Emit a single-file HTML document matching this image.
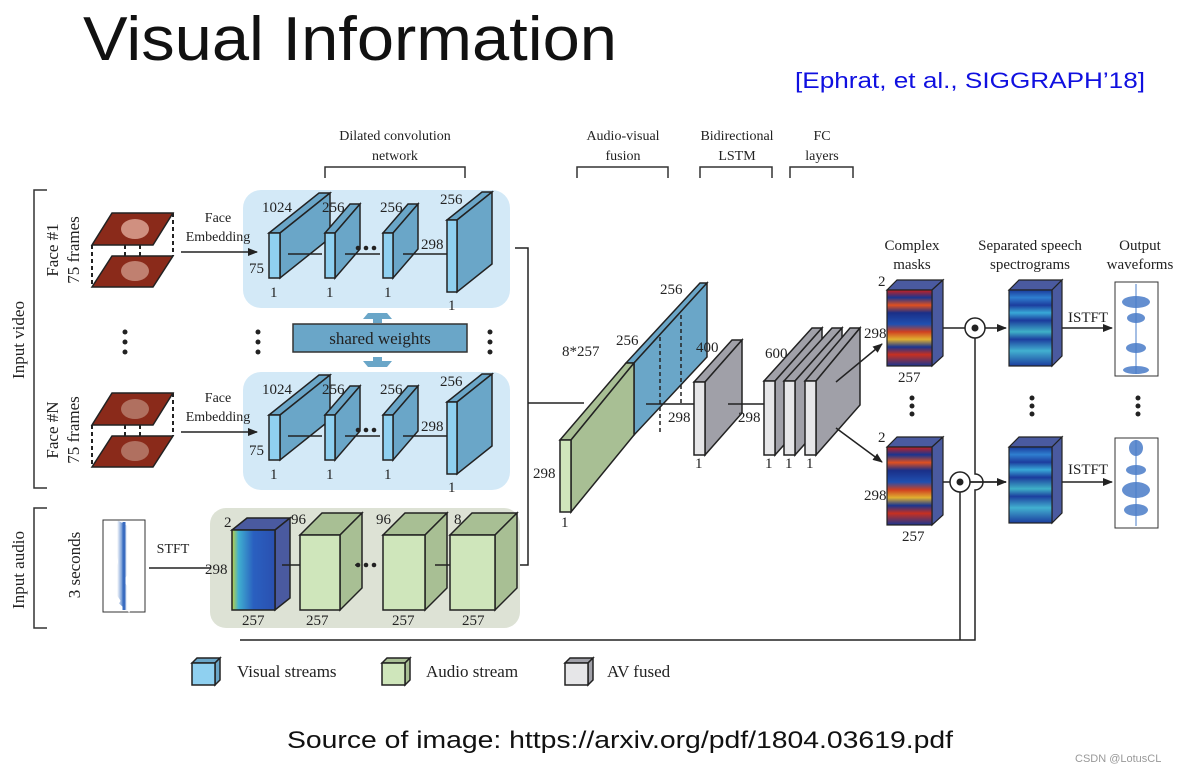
<!DOCTYPE html>
<html><head><meta charset="utf-8"><style>
html,body{margin:0;padding:0;background:#fff;}
svg{display:block;}
.s{font-family:"Liberation Serif",serif;fill:#222;}
.l{font-family:"Liberation Sans",sans-serif;}
.t{font-family:"DejaVu Sans ExtraLight","Liberation Sans",sans-serif;}
</style></head><body>
<svg width="1184" height="772" viewBox="0 0 1184 772" xmlns="http://www.w3.org/2000/svg">
<defs>
<marker id="ar" markerWidth="10" markerHeight="8" refX="9" refY="4" orient="auto" markerUnits="userSpaceOnUse"><path d="M0,0 L10,4 L0,8 Z" fill="#222"/></marker>
<linearGradient id="spec" x1="0" y1="0" x2="0" y2="1">
<stop offset="0" stop-color="#1a3a9a"/><stop offset="0.1" stop-color="#2f7fd0"/><stop offset="0.2" stop-color="#1c3d9e"/><stop offset="0.3" stop-color="#38a8d8"/><stop offset="0.4" stop-color="#1b3b9c"/><stop offset="0.55" stop-color="#3fb0c8"/><stop offset="0.65" stop-color="#1c3f9f"/><stop offset="0.8" stop-color="#42b0d0"/><stop offset="1" stop-color="#1b3d9e"/></linearGradient>
<linearGradient id="mask" x1="0" y1="0" x2="0" y2="1">
<stop offset="0" stop-color="#c82020"/><stop offset="0.1" stop-color="#1a3590"/><stop offset="0.2" stop-color="#e05020"/><stop offset="0.3" stop-color="#1a2f88"/><stop offset="0.45" stop-color="#2050b0"/><stop offset="0.55" stop-color="#d04020"/><stop offset="0.65" stop-color="#e0b030"/><stop offset="0.75" stop-color="#1a3590"/><stop offset="0.85" stop-color="#c83020"/><stop offset="1" stop-color="#1a3590"/></linearGradient>
<linearGradient id="wave" x1="0" y1="0" x2="1" y2="0"><stop offset="0" stop-color="#fff"/><stop offset="0.5" stop-color="#4a7cc8"/><stop offset="1" stop-color="#fff"/></linearGradient>
<linearGradient id="aspec" x1="0" y1="0" x2="1" y2="0"><stop offset="0" stop-color="#c0d040"/><stop offset="0.15" stop-color="#40b0d0"/><stop offset="0.5" stop-color="#2a60c0"/><stop offset="1" stop-color="#2a50b0"/></linearGradient>
</defs>

<!-- Title -->
<text x="83" y="60" class="t" font-size="62" fill="#111" textLength="534" lengthAdjust="spacingAndGlyphs" font-weight="200">Visual Information</text>
<text x="795" y="88" class="l" font-size="22" fill="#1010e0" textLength="350" lengthAdjust="spacingAndGlyphs">[Ephrat, et al., SIGGRAPH’18]</text>

<!-- Top headers -->
<g class="s" font-size="14" text-anchor="middle">
<text x="395" y="140">Dilated convolution</text><text x="395" y="160">network</text>
<text x="623" y="140">Audio-visual</text><text x="623" y="160">fusion</text>
<text x="737" y="140">Bidirectional</text><text x="737" y="160">LSTM</text>
<text x="822" y="140">FC</text><text x="822" y="160">layers</text>
<text x="912" y="250" font-size="15">Complex</text><text x="912" y="269" font-size="15">masks</text>
<text x="1030" y="250" font-size="15">Separated speech</text><text x="1030" y="269" font-size="15">spectrograms</text>
<text x="1140" y="250" font-size="15">Output</text><text x="1140" y="269" font-size="15">waveforms</text>
</g>
<g stroke="#333" stroke-width="1.5" fill="none">
<path d="M325,178 V167 H465 V178"/><path d="M577,178 V167 H668 V178"/><path d="M700,178 V167 H772 V178"/><path d="M790,178 V167 H853 V178"/>
<path d="M47,190 H34 V488 H47"/><path d="M47,508 H34 V628 H47"/>
</g>

<!-- left labels -->
<g class="s" font-size="17">
<text transform="translate(24,340) rotate(-90)" text-anchor="middle">Input video</text>
<text transform="translate(24,570) rotate(-90)" text-anchor="middle">Input audio</text>
<text transform="translate(58,250) rotate(-90)" text-anchor="middle">Face #1</text>
<text transform="translate(79,250) rotate(-90)" text-anchor="middle">75 frames</text>
<text transform="translate(58,430) rotate(-90)" text-anchor="middle">Face #N</text>
<text transform="translate(79,430) rotate(-90)" text-anchor="middle">75 frames</text>
<text transform="translate(80,565) rotate(-90)" text-anchor="middle">3 seconds</text>
</g>

<!-- faces -->
<g stroke="#222" stroke-width="1.5">
<polygon points="92,245 112,213 173,213 153,245" fill="#8a2a1a"/>
<polygon points="92,287 112,256 173,256 153,287" fill="#8a2a1a"/>
<ellipse cx="135" cy="229" rx="14" ry="10" fill="#d09080" stroke="none"/>
<ellipse cx="135" cy="271" rx="14" ry="10" fill="#c08070" stroke="none"/>
<polygon points="92,425 112,393 173,393 153,425" fill="#8a2a1a"/>
<polygon points="92,467 112,436 173,436 153,467" fill="#8a2a1a"/>
<ellipse cx="135" cy="409" rx="14" ry="10" fill="#b07060" stroke="none"/>
<ellipse cx="135" cy="451" rx="14" ry="10" fill="#b07060" stroke="none"/>
</g>
<g stroke="#222" stroke-width="2" stroke-dasharray="4,3">
<path d="M92,245 V287 M173,213 V256 M125,245 V256 M140,245 V256"/>
<path d="M92,425 V467 M173,393 V436 M125,425 V436 M140,425 V436"/>
</g>
<g fill="#222"><circle cx="125" cy="332" r="2.5"/><circle cx="125" cy="342" r="2.5"/><circle cx="125" cy="352" r="2.5"/></g>

<!-- visual boxes -->
<rect x="243" y="190" width="267" height="118" rx="18" fill="#d3e9f7"/>
<rect x="243" y="372" width="267" height="118" rx="18" fill="#d3e9f7"/>

<!-- face embedding arrows -->
<g class="s" font-size="14" text-anchor="middle">
<text x="218" y="222">Face</text><text x="218" y="241">Embedding</text>
<text x="218" y="402">Face</text><text x="218" y="421">Embedding</text>
</g>
<line x1="181" y1="252" x2="257" y2="252" stroke="#222" stroke-width="1.5" marker-end="url(#ar)"/>
<line x1="181" y1="432" x2="257" y2="432" stroke="#222" stroke-width="1.5" marker-end="url(#ar)"/>

<g stroke="#222" stroke-width="1.5">
<!-- top -->
<polygon points="269,233 319,193 330,193 280,233" fill="#6aa6c8"/><polygon points="280,233 330,193 330,238 280,278" fill="#6aa6c8"/><rect x="269" y="233" width="11" height="45" fill="#8fd0f0"/>
<polygon points="325,233 350,204 360,204 335,233" fill="#6aa6c8"/><polygon points="335,233 360,204 360,249 335,278" fill="#6aa6c8"/><rect x="325" y="233" width="10" height="45" fill="#8fd0f0"/>
<polygon points="383,233 408,204 418,204 393,233" fill="#6aa6c8"/><polygon points="393,233 418,204 418,249 393,278" fill="#6aa6c8"/><rect x="383" y="233" width="10" height="45" fill="#8fd0f0"/>
<polygon points="447,220 482,192 492,192 457,220" fill="#6aa6c8"/><polygon points="457,220 492,192 492,264 457,292" fill="#6aa6c8"/><rect x="447" y="220" width="10" height="72" fill="#8fd0f0"/>
<path d="M288,254 H322 M345,254 H380 M403,254 H447" fill="none"/>
<!-- bottom -->
<polygon points="269,415 319,375 330,375 280,415" fill="#6aa6c8"/><polygon points="280,415 330,375 330,420 280,460" fill="#6aa6c8"/><rect x="269" y="415" width="11" height="45" fill="#8fd0f0"/>
<polygon points="325,415 350,386 360,386 335,415" fill="#6aa6c8"/><polygon points="335,415 360,386 360,431 335,460" fill="#6aa6c8"/><rect x="325" y="415" width="10" height="45" fill="#8fd0f0"/>
<polygon points="383,415 408,386 418,386 393,415" fill="#6aa6c8"/><polygon points="393,415 418,386 418,431 393,460" fill="#6aa6c8"/><rect x="383" y="415" width="10" height="45" fill="#8fd0f0"/>
<polygon points="447,402 482,374 492,374 457,402" fill="#6aa6c8"/><polygon points="457,402 492,374 492,446 457,474" fill="#6aa6c8"/><rect x="447" y="402" width="10" height="72" fill="#8fd0f0"/>
<path d="M288,436 H322 M345,436 H380 M403,436 H447" fill="none"/>
</g>
<g fill="#222">
<circle cx="358" cy="248" r="2.3"/><circle cx="366" cy="248" r="2.3"/><circle cx="374" cy="248" r="2.3"/>
<circle cx="358" cy="430" r="2.3"/><circle cx="366" cy="430" r="2.3"/><circle cx="374" cy="430" r="2.3"/>
<circle cx="258" cy="332" r="2.5"/><circle cx="258" cy="342" r="2.5"/><circle cx="258" cy="352" r="2.5"/>
<circle cx="490" cy="332" r="2.5"/><circle cx="490" cy="342" r="2.5"/><circle cx="490" cy="352" r="2.5"/>
</g>
<g class="s" font-size="15">
<text x="262" y="212">1024</text><text x="322" y="212">256</text><text x="380" y="212">256</text><text x="440" y="204">256</text>
<text x="249" y="273">75</text><text x="421" y="249">298</text>
<text x="270" y="297">1</text><text x="326" y="297">1</text><text x="384" y="297">1</text><text x="448" y="310">1</text>
<text x="262" y="394">1024</text><text x="322" y="394">256</text><text x="380" y="394">256</text><text x="440" y="386">256</text>
<text x="249" y="455">75</text><text x="421" y="431">298</text>
<text x="270" y="479">1</text><text x="326" y="479">1</text><text x="384" y="479">1</text><text x="448" y="492">1</text>
</g>
<!-- shared weights -->
<polygon points="363,319 368,313 387,313 392,319 382,319 382,323 373,323 373,319" fill="#6aa6c8"/>
<rect x="293" y="324" width="174" height="28" fill="#6aa6c8" stroke="#333" stroke-width="1.5"/>
<text x="380" y="344" class="s" font-size="17" text-anchor="middle">shared weights</text>
<polygon points="363,361 368,367 387,367 392,361 382,361 382,357 373,357 373,361" fill="#6aa6c8"/>

<!-- connectors to fusion -->
<path d="M515,248 H528 V565 H520 M528,403 H584" stroke="#222" stroke-width="1.5" fill="none"/>

<!-- audio -->
<rect x="103" y="520" width="42" height="92" fill="#fff" stroke="#333"/>
<path d="M124,524 C112,545 136,560 118,575 C112,590 136,595 124,608" stroke="url(#wave)" stroke-width="14" fill="none" opacity="0.8"/>
<line x1="124" y1="522" x2="124" y2="610" stroke="#3a6cc0" stroke-width="3"/>
<text x="173" y="553" class="s" font-size="14" text-anchor="middle">STFT</text>
<line x1="149" y1="568" x2="226" y2="568" stroke="#222" stroke-width="1.5" marker-end="url(#ar)"/>
<rect x="210" y="508" width="310" height="120" rx="16" fill="#dde2d5"/>
<g stroke="#222" stroke-width="1.5">
<polygon points="232,530 247,518 290,518 275,530" fill="#4a5aa0"/><polygon points="275,530 290,518 290,598 275,610" fill="#4a5aa0"/><rect x="232" y="530" width="43" height="80" fill="url(#aspec)"/>
<polygon points="300,535 322,513 362,513 340,535" fill="#a8bf94"/><polygon points="340,535 362,513 362,588 340,610" fill="#a8bf94"/><rect x="300" y="535" width="40" height="75" fill="#cfe6bb"/>
<polygon points="383,535 405,513 447,513 425,535" fill="#a8bf94"/><polygon points="425,535 447,513 447,588 425,610" fill="#a8bf94"/><rect x="383" y="535" width="42" height="75" fill="#cfe6bb"/>
<polygon points="450,535 472,513 517,513 495,535" fill="#a8bf94"/><polygon points="495,535 517,513 517,588 495,610" fill="#a8bf94"/><rect x="450" y="535" width="45" height="75" fill="#cfe6bb"/>
<path d="M282,565 H300 M355,565 H357 M435,565 H450" fill="none"/>
</g>
<g fill="#222"><circle cx="358" cy="565" r="2.3"/><circle cx="366" cy="565" r="2.3"/><circle cx="374" cy="565" r="2.3"/></g>
<g class="s" font-size="15">
<text x="224" y="527">2</text><text x="291" y="524">96</text><text x="376" y="524">96</text><text x="454" y="524">8</text>
<text x="205" y="574">298</text>
<text x="242" y="625">257</text><text x="306" y="625">257</text><text x="392" y="625">257</text><text x="462" y="625">257</text>
</g>

<!-- fusion -->
<g stroke="#222" stroke-width="1.5">
<polygon points="626,363 700,283 707,283 634,363" fill="#6aa6c8"/>
<polygon points="634,363 707,283 707,357 634,435" fill="#6aa6c8"/>
<polygon points="560,440 626,363 634,363 571,440" fill="#a8bf94"/>
<polygon points="571,440 634,363 634,435 571,512" fill="#a8bf94"/>
<rect x="560" y="440" width="11" height="72" fill="#cfe6bb"/>
<path d="M660,337 V435 M681,315 V405" stroke-dasharray="4,3" fill="none"/>
<path d="M646,404 H694" fill="none"/>
<polygon points="694,382 732,340 742,340 705,382" fill="#a0a0a8"/><polygon points="705,382 742,340 742,413 705,455" fill="#a0a0a8"/><rect x="694" y="382" width="11" height="73" fill="#e6e6e8"/>
<path d="M728,404 H764" fill="none"/>
<polygon points="764,381 812,328 822,328 775,381" fill="#a0a0a8"/><polygon points="775,381 822,328 822,402 775,455" fill="#a0a0a8"/><rect x="764" y="381" width="11" height="74" fill="#e6e6e8"/>
<polygon points="784,381 832,328 842,328 795,381" fill="#a0a0a8"/><polygon points="795,381 842,328 842,402 795,455" fill="#a0a0a8"/><rect x="784" y="381" width="11" height="74" fill="#e6e6e8"/>
<polygon points="805,381 850,328 860,328 816,381" fill="#a0a0a8"/><polygon points="816,381 860,328 860,405 816,455" fill="#a0a0a8"/><rect x="805" y="381" width="11" height="74" fill="#e6e6e8"/>
</g>
<line x1="836" y1="382" x2="882" y2="344" stroke="#222" stroke-width="1.5" marker-end="url(#ar)"/>
<line x1="836" y1="428" x2="882" y2="462" stroke="#222" stroke-width="1.5" marker-end="url(#ar)"/>
<g class="s" font-size="15">
<text x="660" y="294">256</text><text x="616" y="345">256</text><text x="562" y="356">8*257</text>
<text x="533" y="478">298</text><text x="561" y="527">1</text><text x="668" y="422">298</text>
<text x="696" y="352">400</text><text x="695" y="468">1</text><text x="738" y="422">298</text>
<text x="765" y="358">600</text><text x="765" y="468">1</text><text x="785" y="468">1</text><text x="806" y="468">1</text>
</g>

<!-- masks -->
<g stroke="#222" stroke-width="1.2">
<polygon points="887,290 897,280 943,280 932,290" fill="#4a5aa0"/><polygon points="932,290 943,280 943,356 932,366" fill="#4a5aa0"/><rect x="887" y="290" width="45" height="76" fill="url(#mask)"/>
<polygon points="887,447 897,437 943,437 932,447" fill="#4a5aa0"/><polygon points="932,447 943,437 943,515 932,525" fill="#4a5aa0"/><rect x="887" y="447" width="45" height="78" fill="url(#mask)"/>
<polygon points="1009,290 1019,280 1062,280 1052,290" fill="#4a5aa0"/><polygon points="1052,290 1062,280 1062,356 1052,366" fill="#4a5aa0"/><rect x="1009" y="290" width="43" height="76" fill="url(#spec)"/>
<polygon points="1009,447 1019,437 1062,437 1052,447" fill="#4a5aa0"/><polygon points="1052,447 1062,437 1062,513 1052,523" fill="#4a5aa0"/><rect x="1009" y="447" width="43" height="76" fill="url(#spec)"/>
</g>
<g class="s" font-size="15">
<text x="878" y="286">2</text><text x="864" y="338">298</text><text x="898" y="382">257</text>
<text x="878" y="442">2</text><text x="864" y="500">298</text><text x="902" y="541">257</text>
<text x="1068" y="322">ISTFT</text><text x="1068" y="474">ISTFT</text>
</g>
<!-- multiply circles and lines -->
<g stroke="#222" stroke-width="1.5" fill="none">
<path d="M943,328 H965 M943,482 H950"/>
<path d="M975,338 V474 A8,8 0 0 1 975,490 V640 H240"/>
<path d="M960,492 V640"/>
<path d="M970,482 H1006"/>
</g>
<circle cx="975" cy="328" r="10" fill="#fff" stroke="#222" stroke-width="1.5"/><circle cx="975" cy="328" r="3.5" fill="#222"/>
<circle cx="960" cy="482" r="10" fill="#fff" stroke="#222" stroke-width="1.5"/><circle cx="960" cy="482" r="3.5" fill="#222"/>
<line x1="985" y1="328" x2="1006" y2="328" stroke="#222" stroke-width="1.5" marker-end="url(#ar)"/>
<line x1="970" y1="482" x2="1006" y2="482" stroke="#222" stroke-width="1.5" marker-end="url(#ar)"/>
<line x1="1062" y1="328" x2="1112" y2="328" stroke="#222" stroke-width="1.5" marker-end="url(#ar)"/>
<line x1="1062" y1="482" x2="1112" y2="482" stroke="#222" stroke-width="1.5" marker-end="url(#ar)"/>
<!-- waveforms -->
<rect x="1115" y="282" width="43" height="94" fill="#fff" stroke="#333"/>
<rect x="1115" y="438" width="43" height="90" fill="#fff" stroke="#333"/>
<g fill="#4a7cc8" opacity="0.85">
<ellipse cx="1136" cy="302" rx="14" ry="6"/><ellipse cx="1136" cy="318" rx="9" ry="5"/><ellipse cx="1136" cy="348" rx="10" ry="5"/><ellipse cx="1136" cy="370" rx="13" ry="4"/>
<ellipse cx="1136" cy="448" rx="7" ry="8"/><ellipse cx="1136" cy="470" rx="10" ry="5"/><ellipse cx="1136" cy="490" rx="14" ry="8"/><ellipse cx="1136" cy="510" rx="12" ry="6"/>
</g>
<line x1="1136" y1="284" x2="1136" y2="374" stroke="#4a7cc8"/><line x1="1136" y1="440" x2="1136" y2="526" stroke="#4a7cc8"/>
<g fill="#222">
<circle cx="912" cy="398" r="2.5"/><circle cx="912" cy="406" r="2.5"/><circle cx="912" cy="414" r="2.5"/>
<circle cx="1032" cy="398" r="2.5"/><circle cx="1032" cy="406" r="2.5"/><circle cx="1032" cy="414" r="2.5"/>
<circle cx="1138" cy="398" r="2.5"/><circle cx="1138" cy="406" r="2.5"/><circle cx="1138" cy="414" r="2.5"/>
</g>

<!-- legend -->
<g stroke="#222" stroke-width="1.5">
<polygon points="192,663 197,658 220,658 215,663" fill="#6aa6c8"/><polygon points="215,663 220,658 220,680 215,685" fill="#6aa6c8"/><rect x="192" y="663" width="23" height="22" fill="#8fd0f0"/>
<polygon points="382,663 387,658 410,658 405,663" fill="#a8bf94"/><polygon points="405,663 410,658 410,680 405,685" fill="#a8bf94"/><rect x="382" y="663" width="23" height="22" fill="#cfe6bb"/>
<polygon points="565,663 570,658 593,658 588,663" fill="#a0a0a8"/><polygon points="588,663 593,658 593,680 588,685" fill="#a0a0a8"/><rect x="565" y="663" width="23" height="22" fill="#e6e6e8"/>
</g>
<g class="s" font-size="17">
<text x="237" y="677">Visual streams</text><text x="426" y="677">Audio stream</text><text x="607" y="677">AV fused</text>
</g>

<text x="620" y="748" class="l" font-size="24" fill="#111" text-anchor="middle" textLength="666" lengthAdjust="spacingAndGlyphs">Source of image: https://arxiv.org/pdf/1804.03619.pdf</text>
<text x="1075" y="762" class="l" font-size="11" fill="#999">CSDN @LotusCL</text>
</svg>
</body></html>
